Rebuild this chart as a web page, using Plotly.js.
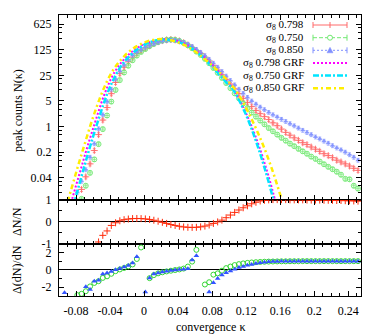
<!DOCTYPE html>
<html>
<head>
<meta charset="utf-8">
<script src="https://cdn.plot.ly/plotly-3.0.1.min.js"></script>
<style>
  html, body { margin: 0; padding: 0; background: #fff; }
  #chart { width: 382px; height: 334px; }
</style>
</head>
<body>
<div id="chart"></div>
<script>
// bin centres of the convergence histogram
const kappa = [
  -0.0935, -0.0885, -0.0835, -0.0785, -0.0735, -0.0685, -0.0635, -0.0585, -0.0535, -0.0485,
  -0.0435, -0.0385, -0.0335, -0.0285, -0.0235, -0.0185, -0.0135, -0.0085, -0.0035, 0.0015,
  0.0065, 0.0115, 0.0165, 0.0215, 0.0265, 0.0315, 0.0365, 0.0415, 0.0465, 0.0515,
  0.0565, 0.0615, 0.0665, 0.0715, 0.0765, 0.0815, 0.0865, 0.0915, 0.0965, 0.1015,
  0.1065, 0.1115, 0.1165, 0.1215, 0.1265, 0.1315, 0.1365, 0.1415, 0.1465, 0.1515,
  0.1565, 0.1615, 0.1665, 0.1715, 0.1765, 0.1815, 0.1865, 0.1915, 0.1965, 0.2015,
  0.2065, 0.2115, 0.2165, 0.2215, 0.2265, 0.2315, 0.2365, 0.2415, 0.2465, 0.2515
];

// peak counts N(kappa), N-body
const nBody798 = [
  null, null, null, 0.0087, 0.019, 0.042, 0.095, 0.22, 0.60, 1.5,
  3.3, 7.9, 16, 28, 42, 59, 79, 100, 120, 141,
  162, 186, 209, 224, 234, 240, 234, 219, 195, 170,
  145, 120, 100, 79, 62, 47, 35, 26, 19.5, 14.5,
  10.7, 7.9, 5.9, 4.5, 3.5, 2.75, 2.24, 1.86, 1.55, 1.26,
  1.05, 0.85, 0.69, 0.58, 0.49, 0.42, 0.36, 0.32, 0.275, 0.24,
  0.21, 0.18, 0.16, 0.14, 0.12, 0.107, 0.095, 0.083, 0.072, 0.063
];
const nBody750 = [
  null, null, null, null, 0.0105, 0.024, 0.054, 0.126, 0.33, 0.85,
  2.0, 4.8, 10, 18.6, 30, 46, 65, 87, 110, 132,
  158, 182, 204, 224, 234, 240, 234, 219, 195, 166,
  138, 112, 91, 71, 54, 40, 29.5, 21.4, 15.5, 11.2,
  8.1, 5.9, 4.3, 3.2, 2.4, 1.86, 1.45, 1.15, 0.91, 0.74,
  0.6, 0.49, 0.41, 0.34, 0.29, 0.245, 0.21, 0.18, 0.15, 0.13,
  0.11, 0.093, 0.079, 0.068, 0.058, 0.048, 0.037, 0.036, 0.024, 0.02
];
const nBody850 = [
  null, null, 0.0089, 0.016, 0.032, 0.066, 0.145, 0.34, 0.87, 2.1,
  4.8, 10.5, 20, 33, 49, 68, 89, 110, 129, 148,
  166, 186, 204, 219, 229, 234, 229, 219, 200, 178,
  155, 129, 107, 87, 69, 54, 42, 32, 24, 18.2,
  13.8, 10.5, 8.1, 6.3, 5.0, 4.1, 3.4, 2.9, 2.45, 2.1,
  1.82, 1.58, 1.38, 1.2, 1.05, 0.91, 0.79, 0.69, 0.6, 0.52,
  0.46, 0.4, 0.35, 0.3, 0.26, 0.23, 0.2, 0.17, 0.145, 0.12
];

// peak counts, Gaussian random fields
const grf798 = [
  null, 0.005, 0.0126, 0.032, 0.079, 0.2, 0.48, 1.12, 2.6, 5.8,
  11.5, 21, 34, 50, 69, 91, 115, 138, 162, 186,
  204, 224, 234, 245, 245, 240, 229, 214, 191, 166,
  141, 117, 95, 76, 59, 45, 34, 25, 18.6, 14.1,
  9.3, 5.8, 3.4, 1.9, 1.0, 0.5, 0.234, 0.102, 0.042, 0.016,
  0.0056, null, null, null, null, null, null, null, null, null,
  null, null, null, null, null, null, null, null, null, null
];
const grf750 = [
  null, null, 0.0063, 0.0166, 0.044, 0.112, 0.28, 0.68, 1.58, 3.6,
  7.6, 14.5, 25, 40, 58, 79, 102, 126, 151, 178,
  200, 219, 234, 240, 240, 234, 224, 204, 182, 158,
  135, 110, 89, 69, 52, 40, 29.5, 21.9, 16.2, 12.6,
  8.7, 5.3, 3.1, 1.7, 0.85, 0.4, 0.18, 0.075, 0.03, 0.011,
  0.004, null, null, null, null, null, null, null, null, null,
  null, null, null, null, null, null, null, null, null, null
];
const grf850 = [
  0.004, 0.0112, 0.028, 0.071, 0.174, 0.417, 1.0, 2.24, 4.8, 9.5,
  17.4, 28.8, 43.7, 61.7, 83.2, 107, 132, 158, 182, 204,
  224, 234, 245, 245, 240, 229, 214, 195, 174, 151,
  129, 107, 87, 69, 55, 42.7, 33.9, 25.7, 20, 14.8,
  10.7, 7.1, 4.5, 2.7, 1.58, 0.89, 0.48, 0.25, 0.122, 0.057,
  0.025, 0.0105, 0.0042, null, null, null, null, null, null, null,
  null, null, null, null, null, null, null, null, null, null
];

// Delta N / N  (sigma8 0.798)
const dNratio = [
  null, null, null, null, null, null, null, null, -0.92, -0.62,
  -0.42, -0.17, -0.05, 0.04, 0.09, 0.12, 0.14, 0.145, 0.14, 0.125,
  0.1, 0.065, 0.02, -0.03, -0.08, -0.13, -0.17, -0.21, -0.24, -0.255,
  -0.26, -0.255, -0.235, -0.2, -0.15, -0.08, -0.01, 0.07, 0.18, 0.3,
  0.42, 0.53, 0.63, 0.72, 0.81, 0.88, 0.94, 0.97, 0.99, 1.0,
  1.0, 1.0, 1.0, 0.99, 0.99, 0.99, 0.99, 0.98, 0.98, 0.98,
  0.98, 0.97, 0.97, 0.97, 0.96, 0.96, 0.95, 0.95, 0.94, 0.93
];

// Delta(dN)/dN for sigma8 0.750 and 0.850
const ddN750 = [
  null, null, null, -2.9, -2.75, -2.45, -1.9, -1.5, -1.3, -0.92,
  -0.74, -0.45, -0.15, 0.05, 0.22, 0.4, 0.62, 1.25, 2.57, null,
  -0.95, -0.6, -0.4, -0.28, -0.18, -0.1, -0.02, 0.05, 0.15, 0.38,
  0.95, 2.3, null, -1.68, -1.42, -0.55, -0.4, -0.1, 0.2, 0.38,
  0.55, 0.66, 0.74, 0.8, 0.85, 0.88, 0.91, 0.93, 0.95, 0.96,
  0.97, 0.98, 0.98, 0.99, 0.99, 0.99, 1.0, 1.0, 1.0, 1.0,
  1.0, 1.0, 1.0, 1.0, 1.0, 1.0, 1.0, 1.0, 1.0, 1.0
];
const ddN850 = [
  -2.62, null, null, null, null, -1.94, -2.24, -1.31, -1.19, -0.47,
  -0.36, -0.18, 0.01, 0.16, 0.32, 0.5, 0.8, 1.51, null, -2.55,
  -0.93, -0.47, -0.36, -0.25, -0.15, -0.08, -0.02, 0.03, 0.08, 0.12,
  1.14, 1.62, null, null, -2.55, -1.49, -1.0, -0.6, -0.32, -0.12,
  0.07, 0.26, 0.4, 0.52, 0.62, 0.74, 0.82, 0.88, 0.92, 0.95,
  0.97, 0.98, 0.99, 0.99, 0.99, 1.0, 1.0, 1.0, 1.0, 1.0,
  1.0, 1.0, 1.0, 1.0, 1.0, 1.0, 1.0, 1.0, 1.0, 1.0
];

const xTickVals = [-0.08, -0.04, 0, 0.04, 0.08, 0.12, 0.16, 0.2, 0.24];
const xTickText = ['-0.08', '-0.04', '0', '0.04', '0.08', '0.12', '0.16', '0.2', '0.24'];
const nTickVals = [0.04, 0.2, 1, 5, 25, 125, 625];
const nTickText = ['0.04', '0.2', '1', '5', '25', '125', '625'];
const legendNames = ['0.798', '0.750', '0.850', '0.798 GRF', '0.750 GRF', '0.850 GRF'];

const RED = '#ff6a6a', GREEN = '#70e870', BLUE = '#8090ff';
const MAG = '#ff00ff', CYAN = '#00e5ff', YEL = '#ffee00';
const FONT = 'Liberation Serif, DejaVu Serif, serif';

const W = 382, H = 334;
const M = { l: 59, r: 21, t: 15, b: 38 };
const plotW = W - M.l - M.r, plotH = H - M.t - M.b;
const fx = px => (px - M.l) / plotW;
const fy = py => (H - M.b - py) / plotH;

const minorN = [0.008].concat(nTickVals).flatMap(b => [2 * b, 3 * b, 4 * b]);

function xAxis(anchor, labels) {
    return {
        anchor: anchor,
        matches: anchor === 'y3' ? undefined : 'x3',
        range: [-0.1, 0.255],
        tickmode: 'array', tickvals: xTickVals, ticktext: xTickText,
        showticklabels: labels,
        ticks: 'inside', ticklen: 5, tickcolor: '#000', mirror: 'allticks',
        showline: true, linecolor: '#000', linewidth: 1,
        showgrid: false, zeroline: false,
        ticklabelstandoff: 4,
        minor: { tickmode: 'linear', tick0: 0, dtick: 0.01, ticks: 'inside', ticklen: 3, tickcolor: '#000', showgrid: false },
        tickfont: { family: FONT, size: 12, color: '#000' }
    };
}

function yAxis(extra) {
    return Object.assign({
        ticks: 'inside', ticklen: 5, tickcolor: '#000', mirror: 'allticks',
        showline: true, linecolor: '#000', linewidth: 1,
        showgrid: false,
        ticklabelstandoff: 4,
        tickfont: { family: FONT, size: 12, color: '#000' }
    }, extra);
}

function nBodyTrace(y, symbol, color) {
    const open = symbol !== 'triangle-up';
    return {
        x: kappa, y: y, xaxis: 'x', yaxis: 'y', type: 'scatter', mode: 'markers',
        marker: { symbol: symbol, size: open ? 5 : 4.5, color: color, opacity: 0.85,
                  line: { color: color, width: open ? 1 : 0 } },
        error_y: { type: 'percent', value: 12, color: color, thickness: 0.7, width: 1.5 },
        error_x: { type: 'constant', value: 0.0025, color: color, thickness: 0.7, width: 0 }
    };
}

const traces = [
    nBodyTrace(nBody798, 'cross-thin', RED),
    nBodyTrace(nBody750, 'circle-open', GREEN),
    nBodyTrace(nBody850, 'triangle-up', BLUE),
    {
        x: kappa, y: grf798, xaxis: 'x', yaxis: 'y', type: 'scatter', mode: 'lines',
        line: { color: MAG, width: 2, dash: '2px,2px', shape: 'spline' }
    },
    {
        x: kappa, y: grf750, xaxis: 'x', yaxis: 'y', type: 'scatter', mode: 'lines',
        line: { color: CYAN, width: 2.5, dash: '6px,2px,2px,2px', shape: 'spline' }
    },
    {
        x: kappa, y: grf850, xaxis: 'x', yaxis: 'y', type: 'scatter', mode: 'lines',
        line: { color: YEL, width: 2.5, dash: '5px,3px,2px,3px', shape: 'spline' }
    },
    {
        x: kappa, y: dNratio, xaxis: 'x2', yaxis: 'y2', type: 'scatter', mode: 'markers',
        marker: { symbol: 'cross-thin', size: 5, color: '#ff2a0a', line: { color: '#ff2a0a', width: 1 } }
    },
    {
        x: kappa, y: ddN750, xaxis: 'x3', yaxis: 'y3', type: 'scatter', mode: 'markers',
        marker: { symbol: 'circle-open', size: 5, color: '#33d633', line: { color: '#33d633', width: 1 } }
    },
    {
        x: kappa, y: ddN850, xaxis: 'x3', yaxis: 'y3', type: 'scatter', mode: 'markers',
        marker: { symbol: 'triangle-up', size: 5, color: '#3355ff' }
    }
];

// legend drawn gnuplot style: text on the left, sample on the right
const legendRowY = [25, 37.7, 50.3, 63, 75.6, 88.3];
const sampleX0 = 313, sampleX1 = 347, sampleXc = 330;
const shapes = [];
function sampleLine(y, color, width, dash) {
    shapes.push({ type: 'line', xref: 'paper', yref: 'paper', x0: fx(sampleX0), x1: fx(sampleX1),
        y0: fy(y), y1: fy(y), line: { color: color, width: width, dash: dash } });
}
function vBar(x, y, color) {
    shapes.push({ type: 'line', xref: 'paper', yref: 'paper', x0: fx(x), x1: fx(x),
        y0: fy(y - 3), y1: fy(y + 3), line: { color: color, width: 1 } });
}
[RED, GREEN, BLUE].forEach((c, i) => {
    const y = legendRowY[i];
    sampleLine(y, c, 1, ['solid', '4px,2px', '2px,2px'][i]);
    vBar(sampleX0, y, c);
    vBar(sampleX1, y, c);
});
vBar(sampleXc, legendRowY[0], RED);
shapes.push({ type: 'circle', xref: 'paper', yref: 'paper',
    x0: fx(sampleXc - 2.5), x1: fx(sampleXc + 2.5), y0: fy(legendRowY[1] + 2.5), y1: fy(legendRowY[1] - 2.5),
    line: { color: GREEN, width: 1 }, fillcolor: '#fff' });
shapes.push({ type: 'path', xref: 'paper', yref: 'paper',
    path: 'M ' + fx(sampleXc - 3) + ',' + fy(legendRowY[2] + 2.5) + ' L ' + fx(sampleXc + 3) + ',' + fy(legendRowY[2] + 2.5) +
          ' L ' + fx(sampleXc) + ',' + fy(legendRowY[2] - 3) + ' Z',
    line: { color: BLUE, width: 0.5 }, fillcolor: BLUE });
sampleLine(legendRowY[3], MAG, 2, '2px,2px');
sampleLine(legendRowY[4], CYAN, 2.5, '6px,2px,2px,2px');
sampleLine(legendRowY[5], YEL, 2.5, '5px,3px,2px,3px');

const annotations = legendNames.map((name, i) => ({
    xref: 'paper', yref: 'paper', x: fx(306), y: fy(legendRowY[i]),
    xanchor: 'right', yanchor: 'middle', showarrow: false,
    text: '\u03c3<sub>8</sub> ' + name,
    font: { family: FONT, size: 11, color: '#000' }
}));
const titleFont = { family: FONT, size: 12, color: '#000' };
annotations.push(
    { xref: 'paper', yref: 'paper', x: fx(18), y: fy(111), textangle: -90, showarrow: false,
      xanchor: 'center', yanchor: 'middle', text: 'peak counts N(\u03ba)', font: titleFont },
    { xref: 'paper', yref: 'paper', x: fx(17), y: fy(222), textangle: -90, showarrow: false,
      xanchor: 'center', yanchor: 'middle', text: '\u0394N/N', font: titleFont },
    { xref: 'paper', yref: 'paper', x: fx(17), y: fy(270), textangle: -90, showarrow: false,
      xanchor: 'center', yanchor: 'middle', text: '\u0394(dN)/dN', font: titleFont },
    { xref: 'paper', yref: 'paper', x: 0.5, y: fy(327), showarrow: false,
      xanchor: 'center', yanchor: 'middle', text: 'convergence \u03ba', font: titleFont }
);

const layout = {
    width: W, height: H,
    margin: M,
    paper_bgcolor: '#fff', plot_bgcolor: '#fff',
    showlegend: false,
    font: { family: FONT, size: 12, color: '#000' },
    xaxis: xAxis('y', false),
    xaxis2: xAxis('y2', false),
    xaxis3: xAxis('y3', true),
    yaxis: yAxis({
        anchor: 'x', domain: [0.343, 1], type: 'log', range: [-2, 3.05],
        tickmode: 'array', tickvals: nTickVals, ticktext: nTickText, zeroline: false,
        minor: { tickvals: minorN, ticks: 'inside', ticklen: 3, tickcolor: '#000', showgrid: false }
    }),
    yaxis2: yAxis({
        anchor: 'x2', domain: [0.186, 0.343], range: [-1, 1],
        tickmode: 'array', tickvals: [-1, 0, 1], ticktext: ['-1', '0', '1'],
        zeroline: true, zerolinecolor: '#000', zerolinewidth: 1,
        minor: { tickvals: [-0.5, 0.5], ticks: 'inside', ticklen: 3, tickcolor: '#000', showgrid: false }
    }),
    yaxis3: yAxis({
        anchor: 'x3', domain: [0, 0.186], range: [-3, 3],
        tickmode: 'array', tickvals: [-2, 0, 2], ticktext: ['-2', '0', '2'],
        zeroline: true, zerolinecolor: '#000', zerolinewidth: 1,
        minor: { tickvals: [-1, 1], ticks: 'inside', ticklen: 3, tickcolor: '#000', showgrid: false }
    }),
    shapes: shapes,
    annotations: annotations
};

Plotly.newPlot('chart', traces, layout, { displayModeBar: false, staticPlot: true });
</script>
</body>
</html>
